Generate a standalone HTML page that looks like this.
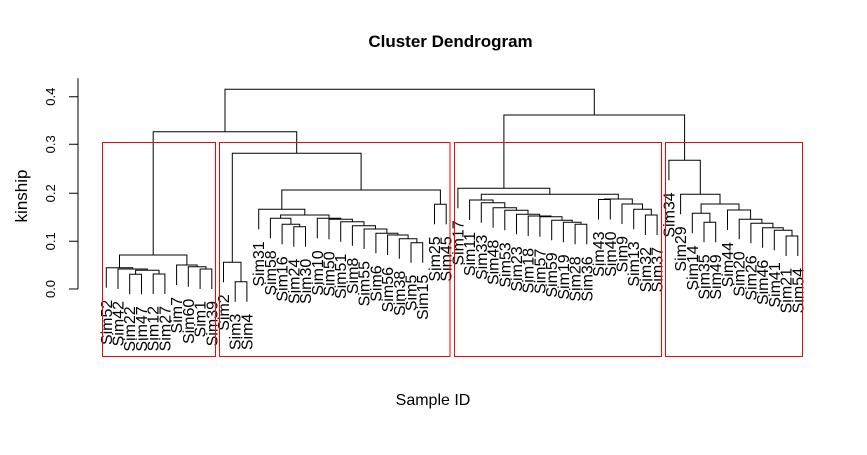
<!DOCTYPE html>
<html><head><meta charset="utf-8"><style>
html,body{margin:0;padding:0;background:#fff;}
svg{display:block;}
text{font-family:"Liberation Sans",sans-serif;fill:#000;}
.l{font-size:16px;text-anchor:end;}
</style></head><body>
<svg width="867" height="455" viewBox="0 0 867 455" xmlns="http://www.w3.org/2000/svg">
<text x="450.5" y="47" style="font-size:17px;font-weight:bold;text-anchor:middle">Cluster Dendrogram</text>
<text x="433" y="405" style="font-size:16px;text-anchor:middle">Sample ID</text>
<text transform="translate(27,196) rotate(-90)" style="font-size:17px;text-anchor:middle">kinship</text>
<g stroke="#000" stroke-width="1" fill="none">
<path d="M78 78.3V289M69 289H78M69 241.3H78M69 193.3H78M69 144.3H78M69 96.7H78"/>
</g>
<g style="font-size:13px;text-anchor:middle">
<text transform="translate(55,289) rotate(-90)">0.0</text>
<text transform="translate(55,241.3) rotate(-90)">0.1</text>
<text transform="translate(55,193.3) rotate(-90)">0.2</text>
<text transform="translate(55,144.3) rotate(-90)">0.3</text>
<text transform="translate(55,96.7) rotate(-90)">0.4</text>
</g>
<g stroke="#000" stroke-width="1" fill="none">
<path d="M129.7 294.3V274.3H141.5V294.3M153.2 294V274H164.9V294M135.6 274.3V270.3H159.05V274M118 289V269H147.3V270.3M106.3 287.7V267.7H132.7V269M200.1 289V269H211.8V289M188.3 286.7V266.7H206V269M176.6 285V265H197.1V266.7M119.5 267.7V255H186.9V265"/>
<path d="M235.2 301.7V281.7H246.9V301.7M223.5 282.3V262.3H241V281.7M293.8 246.7V226.7H305.5V246.7M282.1 244.3V224.3H299.7V226.7M270.4 238.3V218.3H290.9V224.3M411 262.7V242.7H422.7V262.7M399.3 258.7V238.7H416.9V242.7M387.6 255V235H408.1V238.7M375.9 253.3V233.3H397.9V235M364.1 249V229H386.9V233.3M352.4 245.7V225.7H375.5V229M340.7 241.7V221.7H364V225.7M329 239.3V219.3H352.4V221.7M317.3 238.3V218.3H340.7V219.3M280.6 218.3V215H329V218.3M258.7 229.3V209.3H304.8V215M434.5 224.3V204.3H446.2V224.3M281.8 209.3V190H440.4V204.3M232.3 262.3V153.3H361.1V190M153.2 255V131.7H296.7V153.3"/>
<path d="M575.1 244.3V224.3H586.8V244.3M563.4 242.3V222.3H581V224.3M551.7 240.3V220.3H572.2V222.3M539.9 236.7V216.7H562V220.3M528.2 236V216H551V216.7M516.5 234.3V214.3H539.6V216M504.8 230.3V210.3H528V214.3M493.1 227.7V207.7H516.4V210.3M481.3 222.7V202.7H504.8V207.7M469.6 220V200H493V202.7M645.4 235V215H657.1V235M633.7 229.3V209.3H651.3V215M622 224V204H642.5V209.3M598.5 219.5V199.5H610.3V219.5M604.4 199.5V199H632.3V204M481.3 200V194.3H618.3V199M457.9 208.3V188.3H549.8V194.3"/>
<path d="M786.1 256V236H797.8V256M774.3 250.3V230.3H792V236M762.6 247.7V227.7H783.2V230.3M750.9 243.3V223.3H772.9V227.7M739.2 239.3V219.3H761.9V223.3M727.5 230V210H750.6V219.3M704 242.3V222.3H715.7V242.3M692.3 233.3V213.3H709.9V222.3M701.1 213.3V204H739V210M680.6 214.3V194.3H720V204M668.9 180.3V160.3H700.3V194.3M503.9 188.3V115H684.6V160.3M225 131.7V89.3H594.3V115"/>
</g>
<g class="l">
<text class="l" transform="translate(111.8,299.7) rotate(-90)">Sim52</text>
<text class="l" transform="translate(123.5,301) rotate(-90)">Sim42</text>
<text class="l" transform="translate(135.2,306.3) rotate(-90)">Sim22</text>
<text class="l" transform="translate(147,306.3) rotate(-90)">Sim47</text>
<text class="l" transform="translate(158.7,306) rotate(-90)">Sim12</text>
<text class="l" transform="translate(170.4,306) rotate(-90)">Sim27</text>
<text class="l" transform="translate(182.1,297) rotate(-90)">Sim7</text>
<text class="l" transform="translate(193.8,298.7) rotate(-90)">Sim60</text>
<text class="l" transform="translate(205.6,301) rotate(-90)">Sim1</text>
<text class="l" transform="translate(217.3,301) rotate(-90)">Sim39</text>
<text class="l" transform="translate(229,294.3) rotate(-90)">Sim2</text>
<text class="l" transform="translate(240.7,313.7) rotate(-90)">Sim3</text>
<text class="l" transform="translate(252.4,313.7) rotate(-90)">Sim4</text>
<text class="l" transform="translate(264.2,241.3) rotate(-90)">Sim31</text>
<text class="l" transform="translate(275.9,250.3) rotate(-90)">Sim58</text>
<text class="l" transform="translate(287.6,256.3) rotate(-90)">Sim16</text>
<text class="l" transform="translate(299.3,258.7) rotate(-90)">Sim24</text>
<text class="l" transform="translate(311,258.7) rotate(-90)">Sim30</text>
<text class="l" transform="translate(322.8,250.3) rotate(-90)">Sim10</text>
<text class="l" transform="translate(334.5,251.3) rotate(-90)">Sim50</text>
<text class="l" transform="translate(346.2,253.7) rotate(-90)">Sim51</text>
<text class="l" transform="translate(357.9,257.7) rotate(-90)">Sim8</text>
<text class="l" transform="translate(369.6,261) rotate(-90)">Sim55</text>
<text class="l" transform="translate(381.4,265.3) rotate(-90)">Sim6</text>
<text class="l" transform="translate(393.1,267) rotate(-90)">Sim56</text>
<text class="l" transform="translate(404.8,270.7) rotate(-90)">Sim38</text>
<text class="l" transform="translate(416.5,274.7) rotate(-90)">Sim5</text>
<text class="l" transform="translate(428.2,274.7) rotate(-90)">Sim15</text>
<text class="l" transform="translate(440,236.3) rotate(-90)">Sim25</text>
<text class="l" transform="translate(451.7,236.3) rotate(-90)">Sim45</text>
<text class="l" transform="translate(463.4,220.3) rotate(-90)">Sim17</text>
<text class="l" transform="translate(475.1,232) rotate(-90)">Sim11</text>
<text class="l" transform="translate(486.8,234.7) rotate(-90)">Sim33</text>
<text class="l" transform="translate(498.6,239.7) rotate(-90)">Sim48</text>
<text class="l" transform="translate(510.3,242.3) rotate(-90)">Sim53</text>
<text class="l" transform="translate(522,246.3) rotate(-90)">Sim23</text>
<text class="l" transform="translate(533.7,248) rotate(-90)">Sim18</text>
<text class="l" transform="translate(545.4,248.7) rotate(-90)">Sim57</text>
<text class="l" transform="translate(557.2,252.3) rotate(-90)">Sim59</text>
<text class="l" transform="translate(568.9,254.3) rotate(-90)">Sim19</text>
<text class="l" transform="translate(580.6,256.3) rotate(-90)">Sim28</text>
<text class="l" transform="translate(592.3,256.3) rotate(-90)">Sim36</text>
<text class="l" transform="translate(604,231.5) rotate(-90)">Sim43</text>
<text class="l" transform="translate(615.8,231.5) rotate(-90)">Sim40</text>
<text class="l" transform="translate(627.5,236) rotate(-90)">Sim9</text>
<text class="l" transform="translate(639.2,241.3) rotate(-90)">Sim13</text>
<text class="l" transform="translate(650.9,247) rotate(-90)">Sim32</text>
<text class="l" transform="translate(662.6,247) rotate(-90)">Sim37</text>
<text class="l" transform="translate(674.4,192.3) rotate(-90)">Sim34</text>
<text class="l" transform="translate(686.1,226.3) rotate(-90)">Sim29</text>
<text class="l" transform="translate(697.8,245.3) rotate(-90)">Sim14</text>
<text class="l" transform="translate(709.5,254.3) rotate(-90)">Sim35</text>
<text class="l" transform="translate(721.2,254.3) rotate(-90)">Sim49</text>
<text class="l" transform="translate(733,242) rotate(-90)">Sim44</text>
<text class="l" transform="translate(744.7,251.3) rotate(-90)">Sim20</text>
<text class="l" transform="translate(756.4,255.3) rotate(-90)">Sim26</text>
<text class="l" transform="translate(768.1,259.7) rotate(-90)">Sim46</text>
<text class="l" transform="translate(779.8,262.3) rotate(-90)">Sim41</text>
<text class="l" transform="translate(791.6,268) rotate(-90)">Sim21</text>
<text class="l" transform="translate(803.3,268) rotate(-90)">Sim54</text>
</g>
<g stroke="#ff0000" stroke-width="1" fill="none">
<rect x="102.5" y="142.5" width="113" height="214"/>
<rect x="219.5" y="142.5" width="230.5" height="214"/>
<rect x="454.5" y="142.5" width="207" height="214"/>
<rect x="665.5" y="142.5" width="137" height="214"/>
</g>
</svg>
</body></html>
